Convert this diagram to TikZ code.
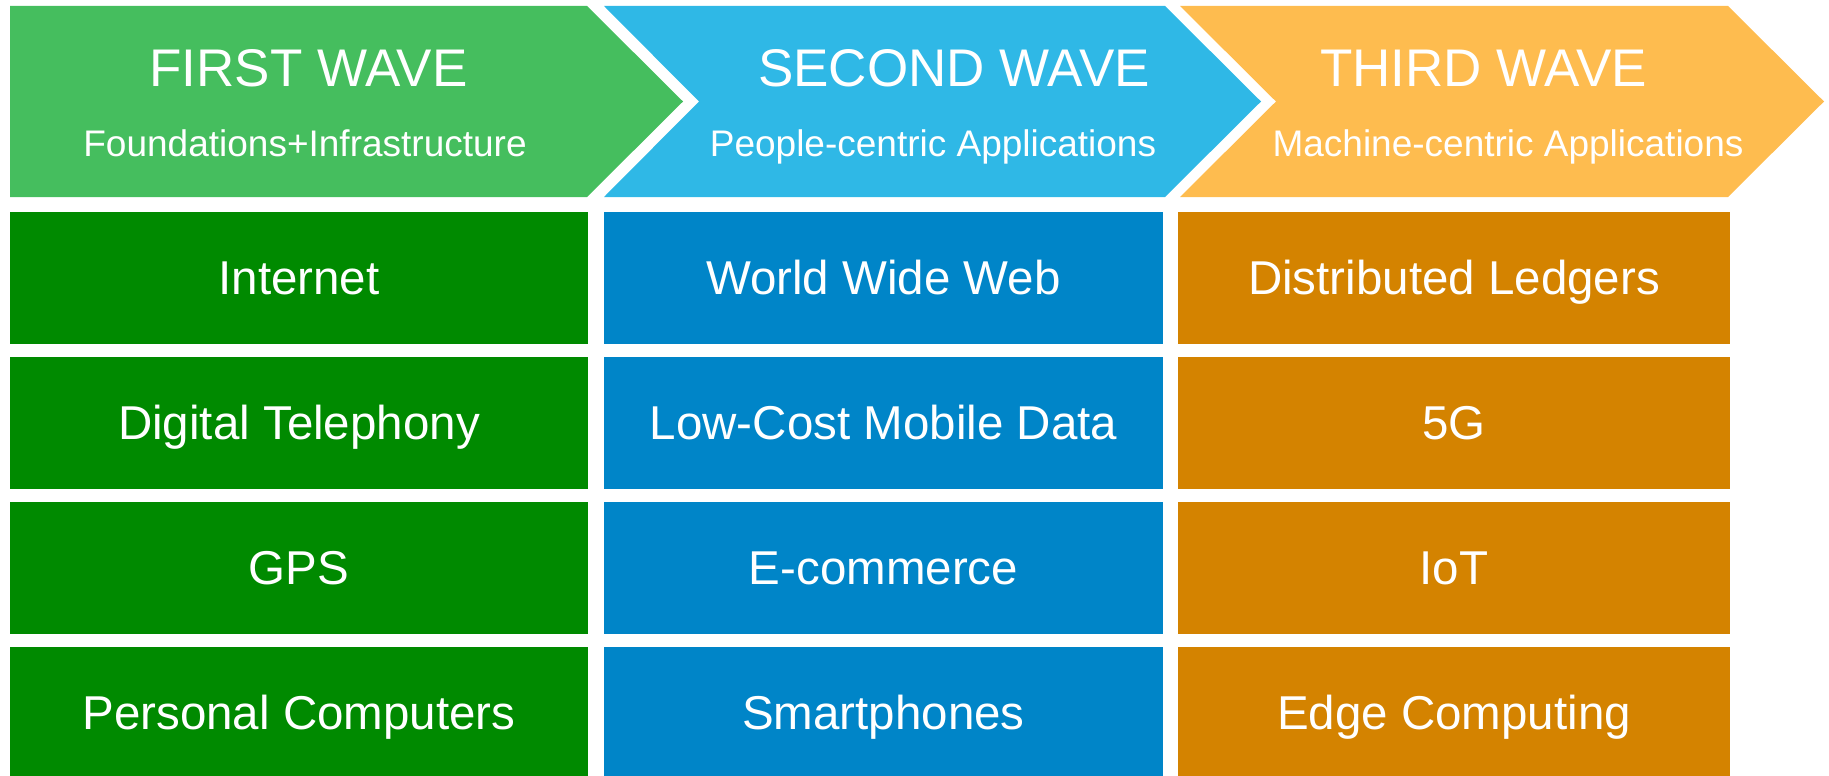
\documentclass[tikz,border=0pt]{standalone}
\usepackage{fontspec}
\setmainfont{Liberation Sans}
\usetikzlibrary{positioning}
\definecolor{waveonelight}{HTML}{45BE5E}
\definecolor{waveonedark}{HTML}{008A00}
\definecolor{wavetwolight}{HTML}{2FB8E6}
\definecolor{wavetwodark}{HTML}{0085C8}
\definecolor{wavethreelight}{HTML}{FEBC4F}
\definecolor{wavethreedark}{HTML}{D48300}

\begin{document}
\begin{tikzpicture}[
  x=1pt,y=-1pt,
  lab/.style={text=white,inner sep=0pt},
  wavetitle/.style={lab,anchor=base,font=\fontsize{53}{62}\selectfont},
  wavesub/.style={lab,anchor=base,font=\fontsize{37}{44}\selectfont},
  tech/.style={lab,minimum height=131.5pt,text height=33pt,text depth=0pt,
    font=\fontsize{47.5}{56}\selectfont}
]
\useasboundingbox (0,0) rectangle (1829,776);

% Chevron headers; the first one has a flat left side.
\foreach \wave/\headcol/\xa/\xb/\dent in
  {1/waveonelight/10/587/0,2/wavetwolight/604/1165/95,
   3/wavethreelight/1180/1728/96} {
  \fill[\headcol] (\xa,6) -- (\xb,6) -- ({\xb+96},101.5) -- (\xb,197)
    -- (\xa,197) -- ({\xa+\dent},101.5) -- cycle;
}
\node[wavetitle] (title-1) at (308.5,86.5) {FIRST WAVE};
\node[wavesub] (sub-1) at (305,156.5) {Foundations+Infrastructure};
\node[wavetitle] (title-2) at (954,86.5) {SECOND WAVE};
\node[wavesub] (sub-2) at (933,156.5) {People-centric Applications};
\node[wavetitle] (title-3) at (1483.5,86.5) {THIRD WAVE};
\node[wavesub] (sub-3) at (1508,156.5) {Machine-centric Applications};

% One column of technologies under each wave.
\foreach \i/\word in {1/Internet,2/Digital Telephony,3/GPS,
  4/Personal Computers} {
  \node[tech,fill=waveonedark,minimum width=578pt] (one-\i)
    at (299,{212+145*(\i-1)+65.75}) {\word};
}
\foreach \i/\word in {1/World Wide Web,2/Low-Cost Mobile Data,
  3/E-commerce,4/Smartphones} {
  \node[tech,fill=wavetwodark,minimum width=559pt] (two-\i)
    at (883.5,{212+145*(\i-1)+65.75}) {\word};
}
\foreach \i/\word in {1/Distributed Ledgers,2/5G,3/IoT,
  4/Edge Computing} {
  \node[tech,fill=wavethreedark,minimum width=552pt] (three-\i)
    at (1454,{212+145*(\i-1)+65.75}) {\word};
}
\end{tikzpicture}
\end{document}
